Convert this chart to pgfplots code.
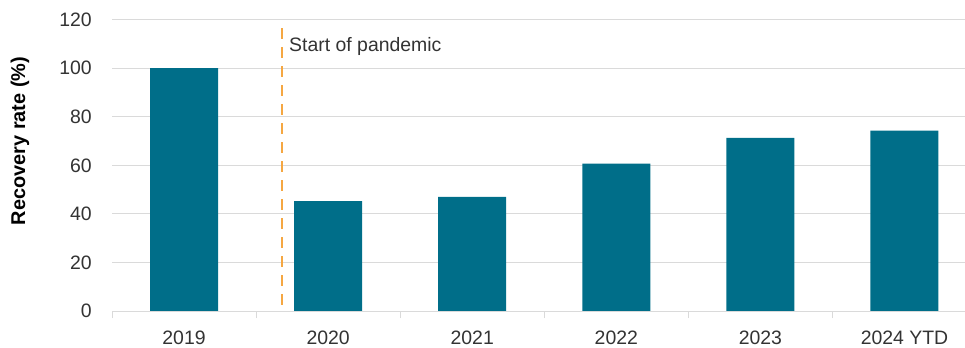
\documentclass[border=0pt]{standalone}
\usepackage{pgfplots}
\pgfplotsset{compat=1.18}
\usepackage{fontspec}
\setmainfont{Liberation Sans}
\definecolor{barc}{HTML}{006E89}
\definecolor{gridc}{HTML}{DADADA}
\definecolor{dashc}{HTML}{F5A742}
\definecolor{txtc}{HTML}{333333}
\begin{document}
\begin{tikzpicture}
\path[use as bounding box] (-112bp,-37bp) rectangle (853bp,311bp);
\begin{axis}[
  at={(0,0)}, anchor=south west,
  scale only axis, width=853bp, height=291.3bp,
  xmin=-0.5, xmax=5.42, ymin=0, ymax=120,
  ytick={0,20,...,120},
  xtick={0,...,5},
  xticklabels={2019,2020,2021,2022,2023,2024 YTD},
  extra x ticks={-0.5,0.5,1.5,2.5,3.5,4.5},
  extra x tick labels={},
  extra x tick style={major tick length=7bp, tick align=outside, xtick style={draw=gridc, line width=1bp}},
  axis x line*=bottom, axis y line*=left,
  y axis line style={draw=none},
  x axis line style={draw=gridc, line width=1bp, -},
  major tick length=0pt,
  ymajorgrids, grid style={draw=gridc, line width=1bp},
  tick label style={font=\fontsize{19.5}{23}\selectfont, text=txtc},
  yticklabel style={anchor=east, inner sep=0pt, xshift=-20bp},
  xticklabel style={anchor=base, inner sep=0pt, yshift=-33bp},
  /pgf/number format/assume math mode=true,
  clip=true,
]
\addplot[ybar, bar width=68bp, fill=barc, draw=none] coordinates {
  (0,100) (1,45.3) (2,47) (3,60.7) (4,71.3) (5,74.3)
};
\addplot[dashc, line width=2.5bp, dash pattern=on 11bp off 8bp] coordinates {(0.68,2.5) (0.68,119)};
\node[anchor=west, inner sep=0pt, xshift=7bp, font=\fontsize{19.5}{23}\selectfont, text=txtc] at (axis cs:0.68,108.8) {Start of pandemic};
\end{axis}
\node[rotate=90, font=\bfseries\fontsize{20}{24}\selectfont, text=black] at (-92bp,170bp) {Recovery rate (\%)};
\end{tikzpicture}
\end{document}
